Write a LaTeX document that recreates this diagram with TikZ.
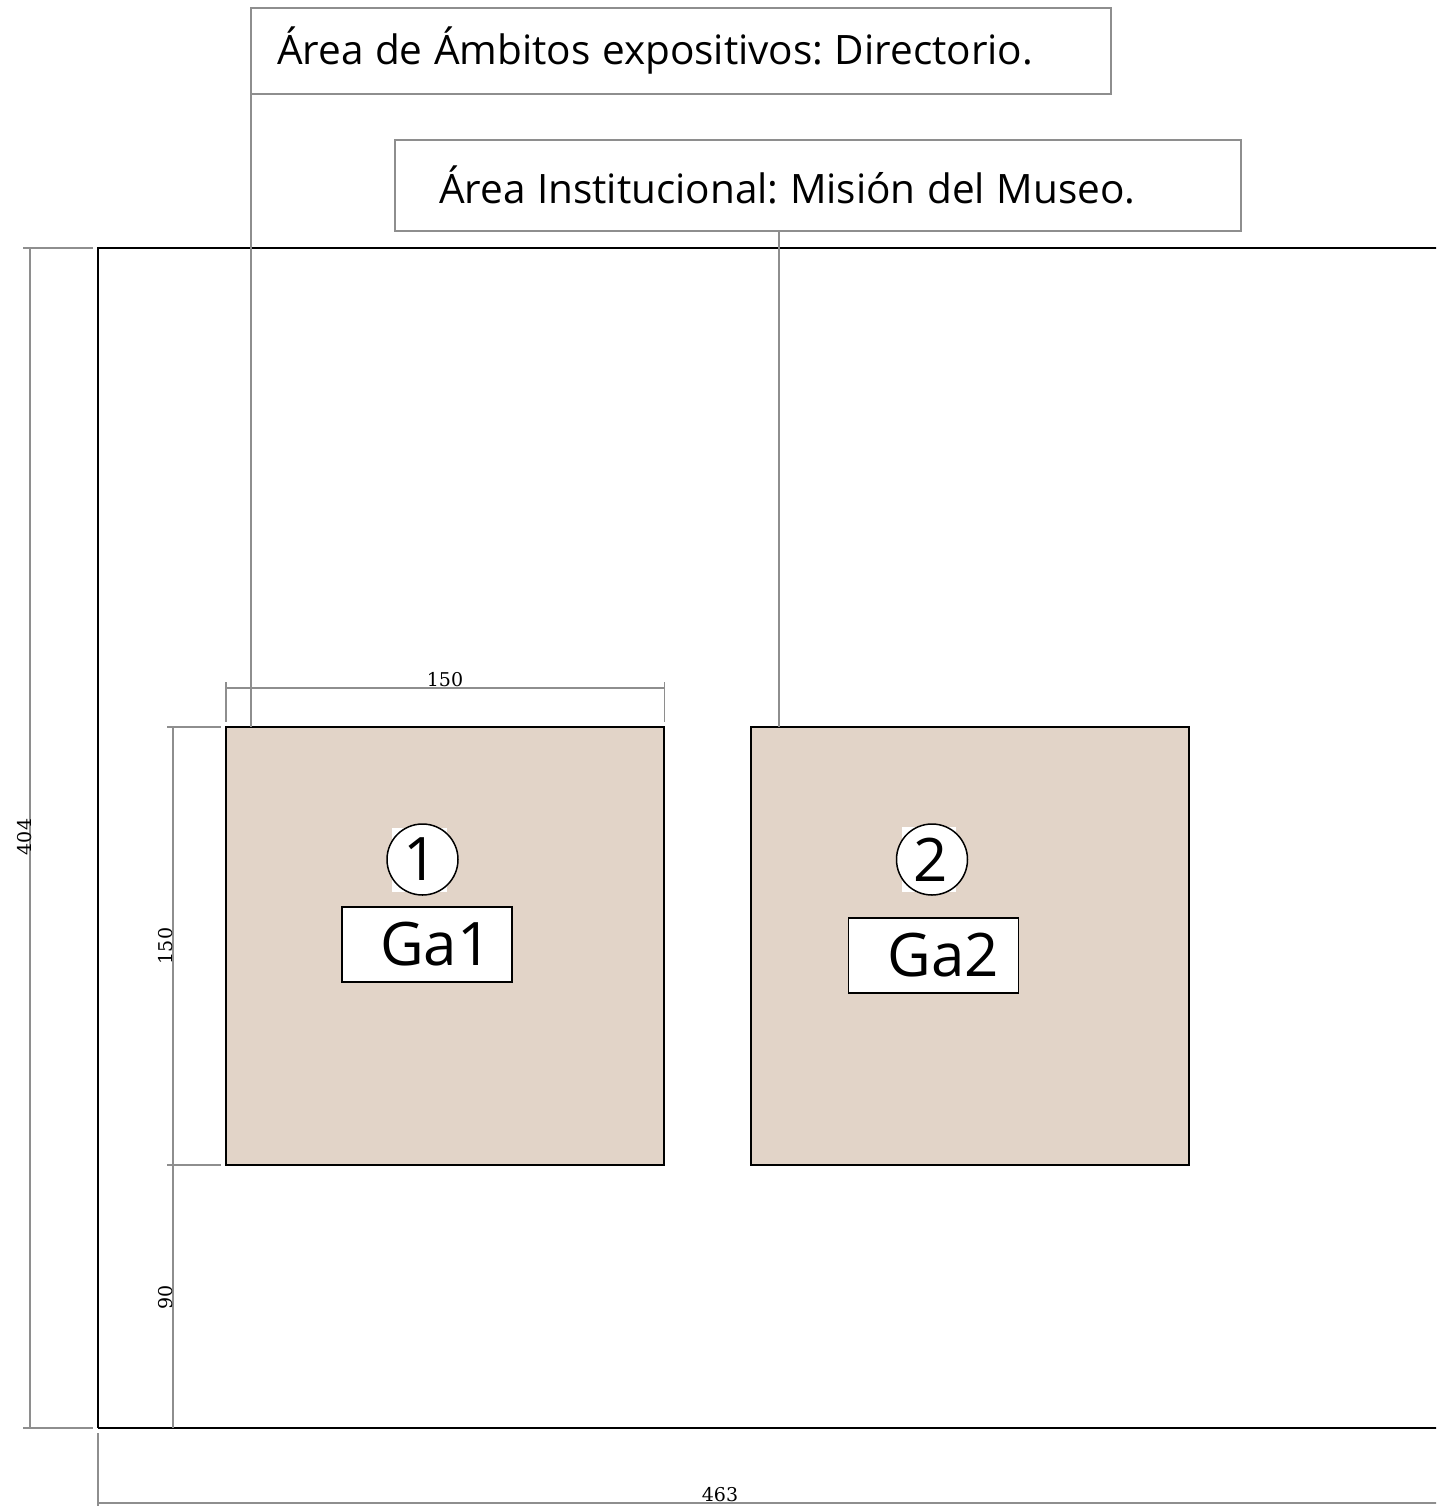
\documentclass[tikz,border=0pt]{standalone}
\usepackage{fontspec}
\setmainfont{Open Sans}
\newfontfamily\dimfont{DejaVu Serif}
\newcommand{\tightwords}{\frenchspacing\spaceskip=11.5pt\relax\xspaceskip=11.5pt\relax}
\tikzset{
  x=1pt,y=-1pt,
  every node/.style={inner sep=0pt,outer sep=0pt},
  wall/.style={draw=black,line width=1.6pt},
  dimline/.style={draw=dimgray,line width=1.5pt},
  leader/.style={draw=dimgray,line width=1.5pt},
  callout/.style={draw=dimgray,line width=1.4pt,fill=white,align=left,font=\fontsize{40.5}{47}\selectfont},
  room/.style={draw=black,line width=1.6pt,fill=roomfill,minimum width=438pt,minimum height=438pt},
  tagbox/.style={draw=black,line width=1.5pt,fill=white,minimum width=170pt,minimum height=75pt,align=left,font=\fontsize{60}{68}\selectfont},
  numcircle/.style={circle,draw=black,line width=1.5pt,fill=white,minimum size=71pt,font=\fontsize{60}{68}\selectfont},
  patch/.style={fill=white},
  dimtext/.style={font=\dimfont\fontsize{19}{22}\selectfont}
}
\definecolor{dimgray}{HTML}{8E8E8E}
\definecolor{roomfill}{HTML}{E2D4C8}
\begin{document}
\begin{tikzpicture}
\useasboundingbox (0,0) rectangle (1436,1508);
\clip (0,0) rectangle (1436,1508);
\fill[white] (0,0) rectangle (1436,1508);
% site outline
\coordinate (siteNW) at (98,248);
\coordinate (siteSW) at (98,1428);
\coordinate (siteNE) at (1440,248);
\coordinate (siteSE) at (1440,1428);
\draw[wall] (siteNE) -- (siteNW) -- (siteSW);
\draw[wall,line width=2.4pt] (siteSW) -- (siteSE);
% rooms
\node[room] (room1) at (445,946) {};
\node[room] (room2) at (970,946) {};
% callouts
\node[callout,minimum height=86pt,text width=808pt,inner xsep=26pt] (ambitos) at (681,51) {\tightwords\raisebox{-1pt}{Área de Ámbitos expositivos: Directorio.}};
\node[callout,minimum height=91pt,text width=758pt,inner xsep=44pt] (inst) at (818,185.5) {\tightwords\raisebox{2pt}{Área Institucional: Misión del Museo.}};
% leaders
\draw[leader] (ambitos.south west) -- (ambitos.south west |- room1.north);
\coordinate (instfoot) at (778.8,231);
\draw[leader] (instfoot) -- (instfoot |- room2.north);
% circles and tags
\fill[patch] (392,828) rectangle (447,892);
\fill[patch] (902,827) rectangle (956,892);
\node[numcircle] (c1) at (422.5,859.5) {\hspace*{-3pt}\raisebox{-1pt}{1}};
\node[numcircle] (c2) at (932,859.5) {\hspace*{-3pt}\raisebox{-1pt}{2}};
\node[tagbox,text width=130pt,inner xsep=20pt] (ga1) at (427,944.5) {\hspace*{18pt}\raisebox{2pt}{Ga1}};
\node[tagbox,text width=130pt,inner xsep=20pt] (ga2) at (933.7,955.7) {\hspace*{19pt}\raisebox{2pt}{Ga2}};
% dimension 404
\coordinate (a1) at (23,248); \coordinate (a2) at (93,248);
\coordinate (a3) at (23,1428); \coordinate (a4) at (93,1428);
\draw[dimline] (a1) -- (a2);
\draw[dimline] (a3) -- (a4);
\draw[dimline] (30,248) -- (30,1428);
\node[dimtext,rotate=90] (d404) at (25,837) {404};
% dimension 150 top
\draw[dimline] (226,682) -- (226,722);
\draw[dimline] (664.5,682) -- (664.5,722);
\draw[dimline] (226,688) -- (664.5,688);
\node[dimtext] (d150a) at (445,680) {150};
% dimension 150 / 90 left
\draw[dimline] (167,727) -- (221,727);
\draw[dimline] (167,1165) -- (221,1165);
\draw[dimline] (173,727) -- (173,1428);
\node[dimtext,rotate=90] (d150b) at (166,946) {150};
\node[dimtext,rotate=90] (d90) at (166,1297) {90};
% dimension 463
\draw[dimline] (98,1433) -- (98,1506);
\draw[dimline] (98,1503) -- (1440,1503);
\node[dimtext] (d463) at (720,1495) {463};
\end{tikzpicture}
\end{document}
